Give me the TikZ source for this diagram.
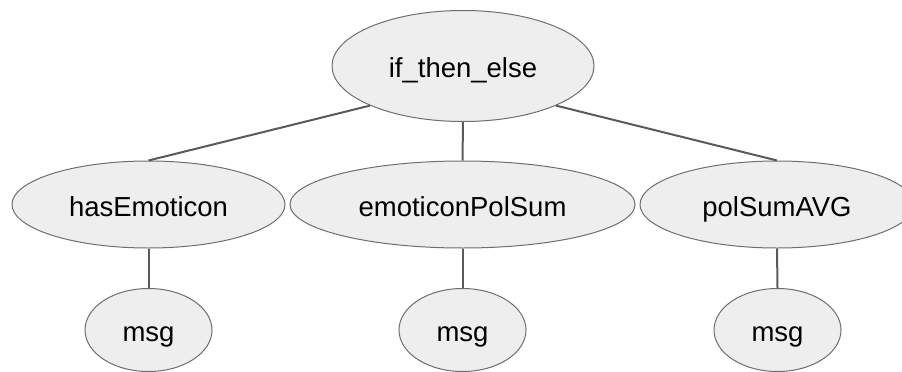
\documentclass[tikz,border=0pt]{standalone}
\usepackage{fontspec}
\setmainfont{Liberation Sans}
\usetikzlibrary{shapes.geometric}
\definecolor{nodefill}{HTML}{EEEEEE}
\definecolor{nodeline}{HTML}{6E6E6E}
\definecolor{edgeline}{HTML}{5A5A5A}
\tikzset{
  treenode/.style={ellipse, draw=nodeline, line width=1pt, fill=nodefill,
    inner sep=0pt, font=\fontsize{27.5}{30}\selectfont,
    text height=26pt, text depth=3pt},
  treeedge/.style={draw=edgeline, line width=2pt}
}
\begin{document}
\begin{tikzpicture}[x=1pt, y=-1pt]
  \useasboundingbox (0,0) rectangle (902,372);
  \clip (0,0) rectangle (902,372);

  % root
  \node[treenode, minimum width=262pt, minimum height=111pt] (root) at (463,66) {if\_then\_else};

  % operators
  \node[treenode, minimum width=273pt, minimum height=87pt] (has) at (148.5,204.5) {hasEmoticon};
  \node[treenode, minimum width=345pt, minimum height=87pt] (emo) at (462.5,204.5) {emoticonPolSum};
  \node[treenode, minimum width=274pt, minimum height=87pt] (pol) at (777,204.5) {polSumAVG};

  % leaves
  \node[treenode, minimum width=127pt, minimum height=83pt] (m1) at (148.5,330) {msg};
  \node[treenode, minimum width=127pt, minimum height=83pt] (m2) at (462.5,330) {msg};
  \node[treenode, minimum width=127pt, minimum height=83pt] (m3) at (777.5,330) {msg};

  % edges
  \draw[treeedge] (root.south west) -- (has.north);
  \draw[treeedge] (root.south) -- (emo.north);
  \draw[treeedge] (root.south east) -- (pol.north);
  \draw[treeedge] (has.south) -- (m1.north);
  \draw[treeedge] (emo.south) -- (m2.north);
  \draw[treeedge] (pol.south) -- (m3.north);
\end{tikzpicture}
\end{document}
